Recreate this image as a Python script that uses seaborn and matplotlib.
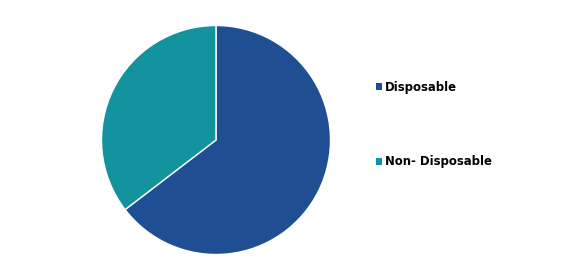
import matplotlib
matplotlib.use("Agg")
import matplotlib.pyplot as plt
import matplotlib.patches as mpatches
import seaborn as sns

categories = ["Disposable", "Non- Disposable"]
shares = [64.6, 35.4]
colors = ["#1f4e92", "#13939d"]

sns.set_theme(style="white")
plt.rcParams['font.family'] = ['DejaVu Sans']

fig = plt.figure(figsize=(5.83, 2.69), dpi=100)
fig.patch.set_facecolor("white")
ax = fig.add_axes([(216 - 114.5) / 583, (269 - 140 - 114.5) / 269, 229 / 583, 229 / 269])
ax.pie(shares, colors=colors, startangle=90, counterclock=False, radius=1,
       wedgeprops=dict(edgecolor="white", linewidth=1))
ax.set_xlim(-1, 1)
ax.set_ylim(-1, 1)
ax.set_aspect("auto")
ax.axis("off")

handles = [mpatches.Patch(facecolor=c, edgecolor="none", label=l) for c, l in zip(colors, categories)]
leg = fig.legend(handles=handles, loc="upper left", bbox_to_anchor=(376 / 583, 1 - 81 / 269),
                 frameon=False, fontsize=8.4, labelspacing=5.25, handlelength=0.55, handleheight=0.55,
                 handletextpad=0.25, borderpad=0, borderaxespad=0)
for t in leg.get_texts():
    t.set_fontweight("bold")
    t.set_color("black")

fig.savefig("out.png", dpi=100, facecolor="white")
